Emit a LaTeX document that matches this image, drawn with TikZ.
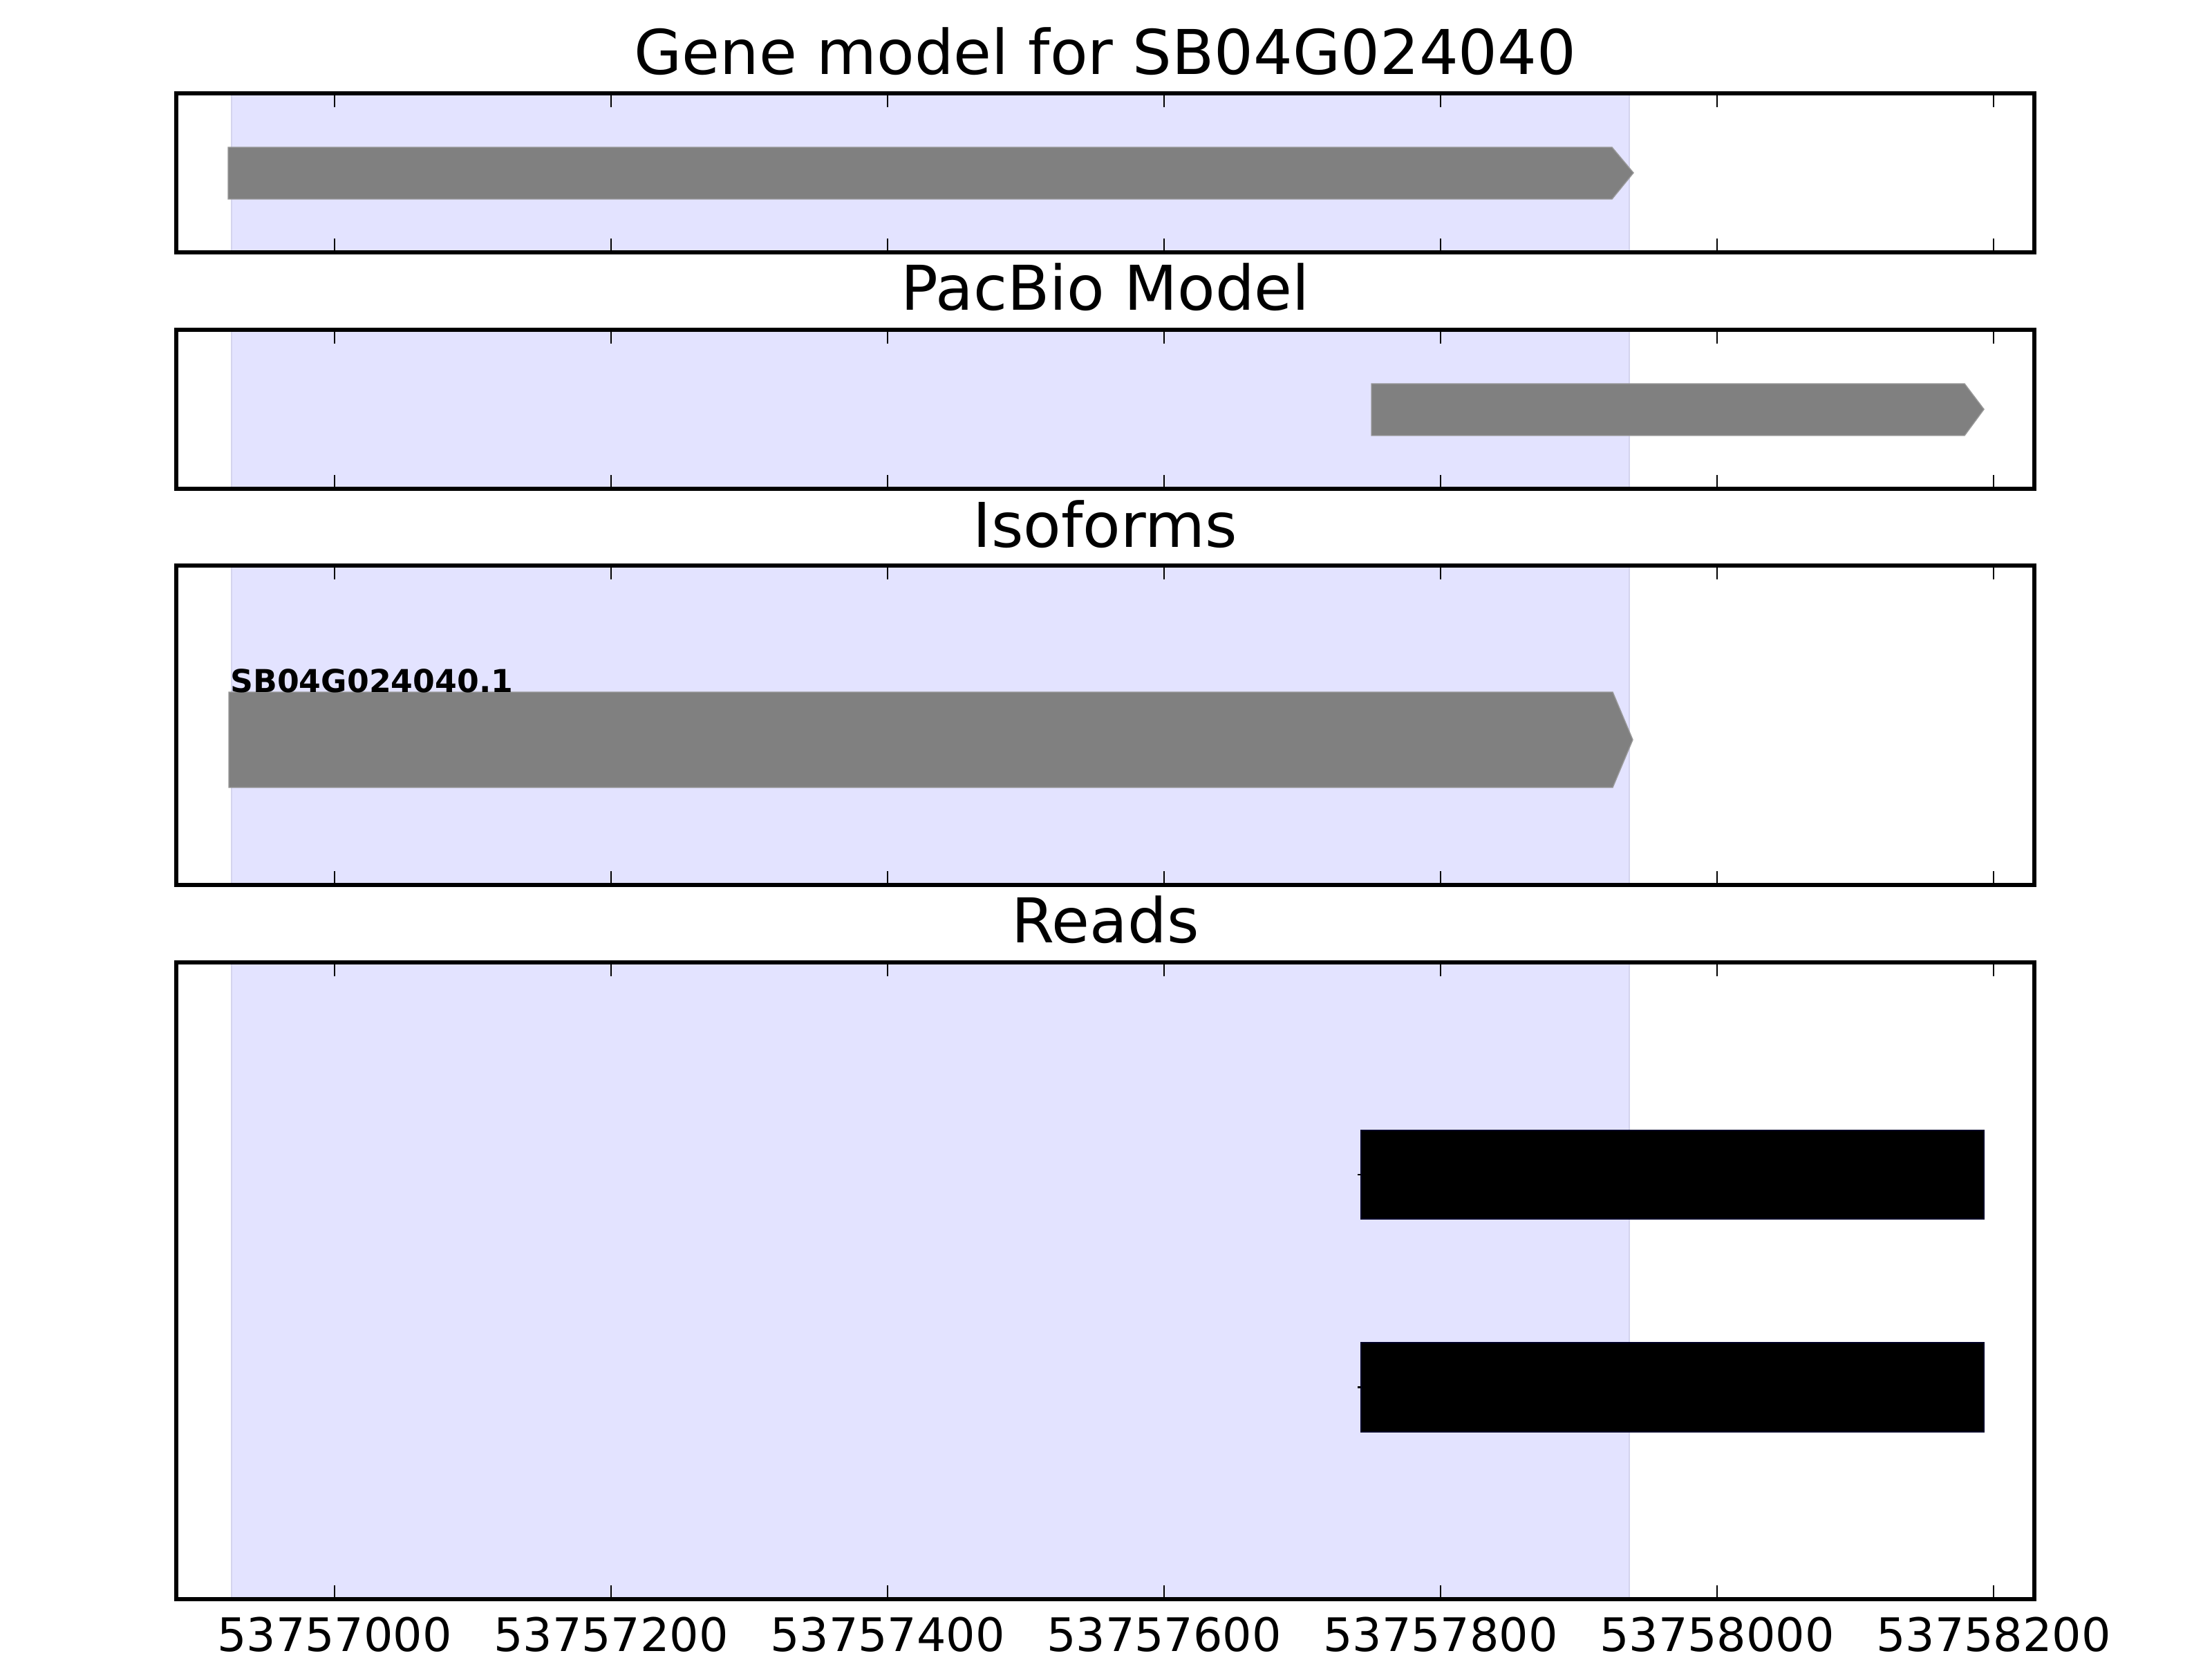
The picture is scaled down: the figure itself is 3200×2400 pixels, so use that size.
\documentclass[tikz,border=0pt]{standalone}
\usepackage{fontspec}
\setmainfont{DejaVu Sans}
\definecolor{spanblue}{RGB}{227,227,255}
\definecolor{spanedge}{RGB}{212,212,238}
\definecolor{exongray}{RGB}{128,128,128}
\tikzset{
  panelframe/.style={draw=black, line width=0.75pt},
  paneltick/.style={draw=black, line width=0.4pt},
  exon/.style={fill=exongray, draw=exongray!80!white, line width=0.2pt},
  readbar/.style={fill=black, draw=black!85!blue, line width=0.2pt},
  paneltitle/.style={anchor=base, inner sep=0pt, font=\fontsize{12.7}{15}\selectfont},
  ticklabel/.style={anchor=base, inner sep=0pt, font=\fontsize{9.5}{11}\selectfont},
}
\begin{document}
\begin{tikzpicture}[x=0.05mm, y=-0.05mm]
\useasboundingbox (0,0) rectangle (3200,2400);
% highlighted gene span, behind everything
\foreach \ya/\yb in {135/365, 477/707, 818/1280, 1392/2313} {
    \fill[spanblue] (335,\ya) rectangle (2357,\yb);
    \draw[spanedge, line width=0.3pt] (335,\ya) -- (335,\yb);
    \draw[spanedge, line width=0.3pt] (2357,\ya) -- (2357,\yb);
  }
% gene model
\filldraw[exon] (330,213) -- (2332,213) -- (2363,250) -- (2332,288) -- (330,288) -- cycle;
% pacbio model
\filldraw[exon] (1984,555) -- (2842,555) -- (2870,592) -- (2842,630) -- (1984,630) -- cycle;
% isoform
\filldraw[exon] (331,1001) -- (2333,1001) -- (2362,1070) -- (2333,1139) -- (331,1139) -- cycle;
\node[anchor=base west, inner sep=0pt, font=\fontsize{6.5}{8}\selectfont\bfseries] (isolabel) at (332,1002) {SB04G024040.1};
% reads
\foreach \ya/\yb in {1635/1763, 1942/2071} {
    \filldraw[readbar] (1969,\ya) rectangle (2870,\yb);
    \draw[black, line width=0.3pt] (1964,{(\ya+\yb)/2}) -- (1969,{(\ya+\yb)/2});
  }
% frames and ticks
\foreach \ya/\yb in {135/365, 477/707, 818/1280, 1392/2313} {
    \draw[panelframe] (255,\ya) rectangle (2943,\yb);
    \foreach \xt in {484,884,...,2884} {
        \draw[paneltick] (\xt,\ya) -- (\xt,\ya+20);
        \draw[paneltick] (\xt,\yb) -- (\xt,\yb-20);
      }
  }
% titles
\node[paneltitle] (genetitle) at (1599,108) {Gene model for SB04G024040};
\node[paneltitle] (pacbiotitle) at (1599,449) {PacBio Model};
\node[paneltitle] (isotitle) at (1599,792) {Isoforms};
\node[paneltitle] (readstitle) at (1599,1363) {Reads};
% axis labels
\foreach \xt/\lab [count=\i] in {484/53757000, 884/53757200, 1284/53757400, 1684/53757600, 2084/53757800, 2484/53758000, 2884/53758200} {
    \node[ticklabel] (tick\i) at (\xt,2388) {\lab};
  }
\end{tikzpicture}
\end{document}
